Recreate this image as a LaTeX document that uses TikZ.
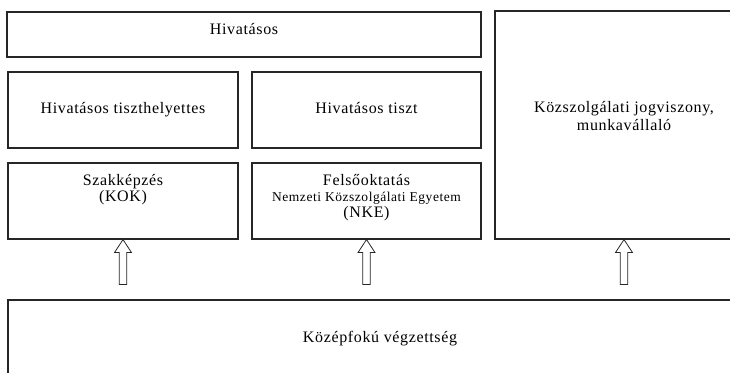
\documentclass[tikz,border=0pt]{standalone}
\usepackage{fontspec}
\setmainfont{Liberation Serif}[LetterSpace=4]
\usepackage{tikz}
\usetikzlibrary{positioning}

\begin{document}
\begin{tikzpicture}[x=1pt,y=-1pt,
 box/.style={rectangle,draw=black!85,line width=1.1pt,inner sep=0pt,
   align=center,font=\fontsize{16}{16}\selectfont},
 hollow/.style={draw=black!85,fill=white,line width=0.8pt,line join=miter,to path={
   ([xshift=-3.75pt]\tikztostart) -- ([xshift=-3.75pt,yshift=-13pt]\tikztotarget)
   -- ([xshift=-8.5pt,yshift=-13pt]\tikztotarget) -- (\tikztotarget)
   -- ([xshift=8.5pt,yshift=-13pt]\tikztotarget) -- ([xshift=3.75pt,yshift=-13pt]\tikztotarget)
   -- ([xshift=3.75pt]\tikztostart) -- cycle}}]

  \useasboundingbox (0,0) rectangle (730,372);
  \clip (0,0) rectangle (730,372);

  \node[box,minimum width=474pt,minimum height=45pt,text height=22pt,text depth=23pt] (hiv) at (244,34.5) {Hivatásos};
  \node[box,minimum width=230pt,minimum height=76pt,text height=41pt,text depth=35pt] (tiszthely) at (123,110) {Hivatásos tiszthelyettes};
  \node[box,minimum width=229pt,minimum height=76pt,text height=41pt,text depth=35pt] (tiszt) at (366.5,110) {Hivatásos tiszt};
  \node[box,minimum width=230pt,minimum height=76pt,text height=38pt,text depth=38pt] (szak) at (123,201) {Szakképzés\\(KOK)};
  \node[box,minimum width=229pt,minimum height=76pt,text height=54pt,text depth=22pt] (felso) at (366.5,201)
    {Felsőoktatás\\{\fontsize{13.5}{16}\selectfont Nemzeti Közszolgálati Egyetem}\\(NKE)};
  \node[box,minimum width=258pt,minimum height=228pt,text height=119pt,text depth=109pt,
    font=\fontsize{16}{18}\selectfont] (kozszolg) at (624,125) {Közszolgálati jogviszony,\\munkavállaló};
  \node[box,minimum width=744pt,minimum height=76pt,text height=42pt,text depth=34pt] (kozep) at (380,338) {Középfokú végzettség};

  \foreach \t in {szak,felso,kozszolg} {
   \coordinate (\t-foot) at ([yshift=15pt]\t.south |- kozep.north);
   \draw[hollow] (\t-foot) to (\t.south);}

\end{tikzpicture}
\end{document}
